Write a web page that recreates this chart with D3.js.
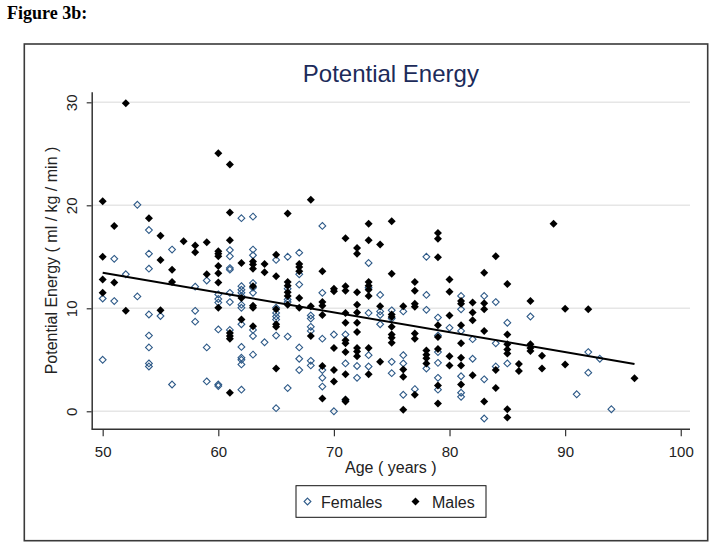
<!DOCTYPE html>
<html>
<head>
<meta charset="utf-8">
<script src="https://cdn.jsdelivr.net/npm/d3@7"></script>
<style>
  html, body { margin: 0; padding: 0; background: #fff; }
  svg { display: block; }
</style>
</head>
<body>
<svg id="chart" width="714" height="546"></svg>
<script>
// ---------------- data ----------------
const figureLabel = "Figure 3b:";
const chartTitle = "Potential Energy";
const xTitle = "Age ( years )";
const yTitle = "Potential Energy ( ml / kg / min )";
const seriesNames = ["Females", "Males"];
const xTicks = [50, 60, 70, 80, 90, 100];
const yTicks = [0, 10, 20, 30];

// Females: [age, potential energy]
const femaleAges = [
  50,50, 51,51, 52, 53,53, 54,54,54,54,54,54,54,54, 55, 56,56, 58,58,58, 59,59,59,
  60,60,60,60,60,60, 61,61,61,61,61,61,61,
  62,62,62,62,62,62,62,62,62,62,62,62,62,
  63,63,63,63,63,63,63,63,63, 64, 65,65,65,65,65,65,65, 66,66,66,66,66,66,
  67,67,67,67,67,67, 68,68,68,68,68,68, 69,69,69,69,69,69, 70,70, 71,71,71, 72,72,
  73,73,73,73,73, 74,74,74,74, 75,75,75,75, 76,76,76,76, 77, 78,78,78,78,
  79,79,79,79,79,79, 80, 81,81,81,81,81,81, 82,82, 83,83,83, 84,84,84, 85,85, 87,
  91, 92,92, 93, 94
];
const femaleValues = [
  10.95,5.0, 14.8,10.7, 13.3, 20.05,11.15, 17.6,15.3,13.85,9.4,7.35,6.2,4.65,4.35, 9.25, 15.7,2.6, 12.1,9.75,8.7, 12.7,6.2,2.9,
  11.35,10.9,10.55,7.95,2.6,2.45, 15.65,15.05,13.9,13.75,11.5,10.6,7.9,
  18.75,12.15,11.8,11.5,11.2,10.35,10.05,8.45,6.25,5.2,5.0,4.55,2.1,
  18.9,15.7,15.15,12.45,12.0,11.5,7.9,7.3,5.5, 6.7, 14.7,10.05,9.55,9.2,8.9,7.35,0.3, 15.0,11.9,10.85,10.6,7.25,2.25,
  15.4,13.3,12.3,6.2,5.1,4.0, 9.3,9.0,8.2,7.8,4.9,4.45, 18.0,11.5,7.05,4.0,3.25,2.4, 7.45,0.0, 7.45,4.65,1.1, 4.4,3.25,
  14.4,12.0,9.55,5.45,4.35, 11.3,9.7,9.35,8.45, 9.8,9.0,4.8,3.7, 9.7,5.45,4.65,1.6, 2.15, 15.0,11.3,9.85,4.15,
  9.1,7.35,5.75,4.7,3.25,2.1, 8.1, 11.2,9.9,7.8,3.4,1.8,1.4, 7.0,5.1, 11.2,3.1,-0.7, 10.6,6.6,4.35, 8.6,4.65, 9.2,
  1.65, 5.75,3.75, 5.1, 0.2
];

// Males: [age, potential energy]
const maleAges = [
  50,50,50,50, 51,51, 52,52, 54, 55,55,55, 56,56, 57, 58,58, 59,59,
  60,60,60,60,60,60,60,60, 61,61,61,61,61,61,61, 62,62,62,
  63,63,63,63,63,63,63, 64,64, 65,65,65,65,65,65, 66,66,66,66,66,66,
  67,67,67,67,67, 68,68,68, 69,69,69,69,69,69, 70,70,70,70,70,
  71,71,71,71,71,71,71,71,71,71,71, 72,72,72,72,72,72,72,72,72,72,
  73,73,73,73,73,73,73,73, 74,74,74, 75,75,75,75,75,75,75,75, 76,76,76,76,
  77,77,77,77,77,77,77, 78,78,78,78, 79,79,79,79,79,79,79,79, 80,80,80,80,80,
  81,81,81,81,81,81,81, 82,82,82,82, 83,83,83,83,83, 84,84,84, 85,85,85,85,85,85,85,
  86,86, 87,87,87,87, 88,88, 89, 90,90, 92, 96
];
const maleValues = [
  20.4,15.0,12.8,11.5, 18.0,12.5, 29.9,9.75, 18.75, 17.05,14.7,9.8, 13.75,12.55, 16.5, 16.1,15.45, 16.4,13.3,
  25.05,15.55,15.3,15.05,14.1,13.4,12.5,10.05, 23.95,19.3,16.6,7.6,7.3,7.05,1.8, 14.4,11.0,8.9,
  14.55,14.25,13.85,12.15,10.25,10.05,8.25, 14.3,13.5, 15.2,13.1,9.9,8.45,8.2,4.15, 19.2,12.55,12.2,11.55,11.2,10.35,
  14.3,14.0,13.6,11.0,10.05, 20.55,10.2,7.3, 13.6,10.6,10.25,9.35,4.4,1.25, 11.9,11.65,6.15,4.0,2.9,
  16.8,12.15,11.7,9.55,8.6,6.9,6.6,5.75,3.6,1.15,0.95, 15.85,15.3,11.55,10.35,9.6,8.6,7.7,6.15,5.8,5.35,
  18.2,16.6,12.55,12.2,11.8,11.2,6.15,3.6, 16.2,10.2,4.8, 18.45,13.35,9.4,9.15,8.2,7.45,7.15,6.65, 10.2,4.05,3.35,0.15,
  12.55,11.7,10.45,10.15,7.55,7.05,1.6, 5.9,5.5,5.15,4.65, 17.3,16.75,14.95,8.35,7.2,6.05,2.5,0.75, 12.8,11.6,9.3,5.35,4.45,
  10.7,10.45,8.35,6.6,5.2,4.45,2.6, 10.55,9.6,8.85,3.5, 13.45,10.5,9.9,7.8,0.95, 15.05,4.0,2.25, 12.35,7.45,6.5,6.0,5.6,0.2,-0.6,
  4.6,3.9, 10.7,6.5,6.15,5.85, 5.4,4.15, 18.2, 9.95,4.55, 9.9, 3.2
];

// Fitted line
const fitAges = [50, 96];
const fitValues = [13.45, 4.6];

// ---------------- drawing ----------------
const svg = d3.select("#chart");
const FONT = "'Liberation Sans', Arial, Helvetica, sans-serif";

const plot = { left: 91.7, right: 690, top: 91.7, bottom: 429.3 };

const x = d3.scaleLinear().domain([49.05, 100.8]).range([plot.left, plot.right]);
const y = d3.scaleLinear().domain([-1.75, 31.03]).range([plot.bottom, plot.top]);

// Outer frame
svg.append("rect")
  .attr("x", 24.3).attr("y", 44).attr("width", 683.4).attr("height", 496.7)
  .attr("fill", "#fff").attr("stroke", "#3a3a3a").attr("stroke-width", 1.6);

// Figure label
svg.append("text")
  .attr("x", 7).attr("y", 19)
  .attr("font-family", "'Liberation Serif', 'Times New Roman', serif")
  .attr("font-weight", "bold").attr("font-size", 18)
  .attr("fill", "#000")
  .text(figureLabel);

// Title
svg.append("text")
  .attr("x", (plot.left + plot.right) / 2).attr("y", 82)
  .attr("text-anchor", "middle")
  .attr("font-family", FONT).attr("font-size", 24)
  .attr("fill", "#1c2b5a")
  .text(chartTitle);

// Gridlines
svg.append("g").selectAll("line").data(yTicks).join("line")
  .attr("x1", plot.left).attr("x2", plot.right)
  .attr("y1", d => y(d)).attr("y2", d => y(d))
  .attr("stroke", "#e6e6e6").attr("stroke-width", 1.5);

// Y axis
const yAxis = svg.append("g")
  .attr("transform", `translate(${plot.left},0)`)
  .call(d3.axisLeft(y).tickValues(yTicks).tickSize(5).tickSizeOuter(0));
yAxis.select(".domain").attr("stroke", "#333").attr("stroke-width", 1.5);
yAxis.selectAll(".tick line").attr("stroke", "#333").attr("stroke-width", 1.2);
yAxis.selectAll(".tick text")
  .attr("x", null).attr("dy", null).attr("y", null)
  .attr("transform", "translate(-14.7,0) rotate(-90)")
  .attr("text-anchor", "middle")
  .attr("font-family", FONT).attr("font-size", 15).attr("fill", "#222");

// X axis
const xAxis = svg.append("g")
  .attr("transform", `translate(0,${plot.bottom})`)
  .call(d3.axisBottom(x).tickValues(xTicks).tickSize(7).tickSizeOuter(0));
xAxis.select(".domain").attr("stroke", "#333").attr("stroke-width", 1.5)
  .attr("d", `M${plot.left},0H${plot.right}`);
xAxis.selectAll(".tick line").attr("stroke", "#333").attr("stroke-width", 1.2);
xAxis.selectAll(".tick text")
  .attr("y", 27.4).attr("dy", null)
  .attr("font-family", FONT).attr("font-size", 15).attr("fill", "#222");

// Axis titles
svg.append("text")
  .attr("x", (plot.left + plot.right) / 2).attr("y", 472.5)
  .attr("text-anchor", "middle")
  .attr("font-family", FONT).attr("font-size", 16).attr("fill", "#222")
  .text(xTitle);
svg.append("text")
  .attr("transform", `translate(57,${(plot.top + plot.bottom) / 2}) rotate(-90)`)
  .attr("text-anchor", "middle")
  .attr("font-family", FONT).attr("font-size", 16).attr("fill", "#222")
  .text(yTitle);

// Markers
const diamond = r => `M0,${-r}L${r},0L0,${r}L${-r},0Z`;
const femaleColor = "#2e5a88";

const females = femaleAges.map((a, i) => ({ age: a, v: femaleValues[i] }));
const males = maleAges.map((a, i) => ({ age: a, v: maleValues[i] }));

svg.append("g").selectAll("path").data(females).join("path")
  .attr("d", diamond(3.4))
  .attr("transform", d => `translate(${x(d.age)},${y(d.v)})`)
  .attr("fill", "none").attr("stroke", femaleColor).attr("stroke-width", 1.1);

svg.append("g").selectAll("path").data(males).join("path")
  .attr("d", diamond(4))
  .attr("transform", d => `translate(${x(d.age)},${y(d.v)})`)
  .attr("fill", "#000").attr("stroke", "none");

// Fit line
svg.append("path")
  .datum(fitAges.map((a, i) => [a, fitValues[i]]))
  .attr("d", d3.line().x(d => x(d[0])).y(d => y(d[1])))
  .attr("fill", "none").attr("stroke", "#000").attr("stroke-width", 2);

// Legend
const lg = svg.append("g");
lg.append("rect")
  .attr("x", 296).attr("y", 485.7).attr("width", 190).attr("height", 31.6)
  .attr("fill", "#fff").attr("stroke", "#111").attr("stroke-width", 1);
lg.append("path").attr("d", diamond(3.4))
  .attr("transform", "translate(307.5,501.5)")
  .attr("fill", "none").attr("stroke", femaleColor).attr("stroke-width", 1.1);
lg.append("text").attr("x", 321).attr("y", 507.5)
  .attr("font-family", FONT).attr("font-size", 16).attr("fill", "#222")
  .text(seriesNames[0]);
lg.append("path").attr("d", diamond(4))
  .attr("transform", "translate(415.5,501.5)")
  .attr("fill", "#000");
lg.append("text").attr("x", 432).attr("y", 507.5)
  .attr("font-family", FONT).attr("font-size", 16).attr("fill", "#222")
  .text(seriesNames[1]);
</script>
</body>
</html>
